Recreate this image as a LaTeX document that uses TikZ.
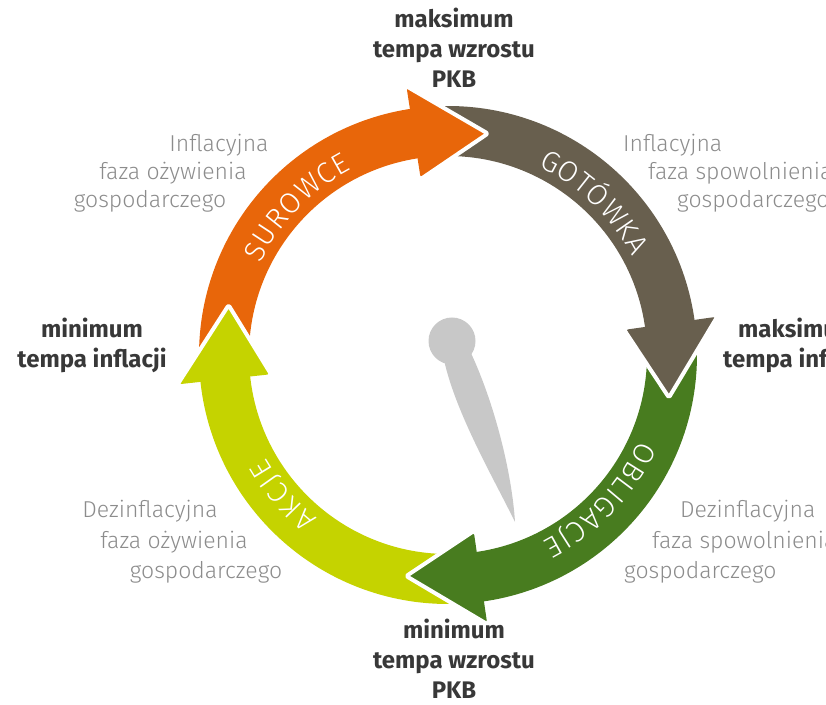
\documentclass[tikz,border=0pt]{standalone}
\usepackage{fontspec}
\setmainfont{Fira Sans}
\newfontfamily\lightfont{Fira Sans Light}
\usetikzlibrary{decorations.text}
\definecolor{corange}{HTML}{E8660A}
\definecolor{cbrown}{HTML}{685F4E}
\definecolor{cgreen}{HTML}{487C1F}
\definecolor{clime}{HTML}{C5D300}
\definecolor{cneedle}{HTML}{C8C8C8}
\definecolor{ctext}{HTML}{8C8C8C}
\definecolor{chead}{HTML}{383838}
\newcommand{\arcfont}{\lightfont\fontsize{29}{29}\selectfont}
\tikzset{
  head/.style={font=\bfseries\fontsize{24}{28}\selectfont, text=chead, inner sep=0pt},
  lbl/.style={font=\lightfont\fontsize{23}{28}\selectfont, text=ctext, inner sep=0pt},
  gapline/.style={draw=white, line width=4pt, line join=round, rounded corners=2pt},
  arclabel/.style={decorate, decoration={text along path, text align={fit to path}, text color=white, text={|\arcfont|#1}}},
}
\begin{document}
\begin{tikzpicture}[x=1pt,y=1pt]
\useasboundingbox (0,0) rectangle (826,704);
\clip (0,0) rectangle (826,704);
\begin{scope}[shift={(448,349)}]
  % shafts
  \fill[corange] (178.7:249) arc[start angle=178.7, end angle=96.8, radius=249] -- (96.8:199) arc[start angle=96.8, end angle=178.7, radius=199] -- cycle;
  \fill[cbrown] (91.3:249) arc[start angle=91.3, end angle=6.1, radius=249] -- (6.1:199) arc[start angle=6.1, end angle=91.3, radius=199] -- cycle;
  \fill[cgreen] (0.6:249) arc[start angle=0.6, end angle=-83.7, radius=249] -- (-83.7:199) arc[start angle=-83.7, end angle=0.6, radius=199] -- cycle;
  \fill[clime] (270.8:249) arc[start angle=270.8, end angle=184.2, radius=249] -- (184.2:199) arc[start angle=184.2, end angle=270.8, radius=199] -- cycle;
  % heads
  \fill[corange, rounded corners=2pt] (98.8:270) -- (79.8:225) -- (98.8:180) -- cycle;
  \draw[gapline] (98.8:272) -- (79.8:225) -- (98.8:178);
  \fill[cbrown, rounded corners=2pt] (8.1:270) -- (-10.9:225) -- (8.1:180) -- cycle;
  \draw[gapline] (8.1:272) -- (-10.9:225) -- (8.1:178);
  \fill[cgreen, rounded corners=2pt] (-81.7:270) -- (-100.7:225) -- (-81.7:180) -- cycle;
  \draw[gapline] (-81.7:272) -- (-100.7:225) -- (-81.7:178);
  \fill[clime, rounded corners=2pt] (186.2:270) -- (167.2:225) -- (186.2:180) -- cycle;
  \draw[gapline] (186.2:272) -- (167.2:225) -- (186.2:178);
  % arc labels
  \path[arclabel=SUROWCE] (154:209) arc[start angle=154, end angle=117.5, radius=209];
  \path[arclabel=GOTÓWKA] (64.5:209) arc[start angle=64.5, end angle=28, radius=209];
  \path[arclabel=OBLIGACJE] (-24:209) arc[start angle=-24, end angle=-63, radius=209];
  \path[arclabel=AKCJE] (231.5:209) arc[start angle=231.5, end angle=209.5, radius=209];
\end{scope}
% needle
\fill[cneedle] (452,363) circle[radius=23.5];
\fill[cneedle] (444,344) .. controls (456,290) and (494,225) .. (515,182) .. controls (512,230) and (495,300) .. (470,353) -- cycle;
% headings
\node[head, anchor=base] (tA) at (454,676) {maksimum};
\node[head, anchor=base] (tB) at (454,646) {tempa wzrostu};
\node[head, anchor=base] (tC) at (454,616) {PKB};
\node[head, anchor=base] (lA) at (92,366) {minimum};
\node[head, anchor=base] (lB) at (92,336) {tempa inflacji};
\node[head, anchor=base west] (rA) at (738,366) {maksimum};
\node[head, anchor=base west] (rB) at (723,336) {tempa inflacji};
\node[head, anchor=base] (bA) at (454,66) {minimum};
\node[head, anchor=base] (bB) at (454,36) {tempa wzrostu};
\node[head, anchor=base] (bC) at (454,6) {PKB};
% phase labels
\node[lbl, anchor=base] (tl1) at (219,552) {Inflacyjna};
\node[lbl, anchor=base] (tl2) at (173,524) {faza ożywienia};
\node[lbl, anchor=base] (tl3) at (150,496) {gospodarczego};
\node[lbl, anchor=base west] (tr1) at (623,552) {Inflacyjna};
\node[lbl, anchor=base west] (tr2) at (648,524) {faza spowolnienia};
\node[lbl, anchor=base west] (tr3) at (677,496) {gospodarczego};
\node[lbl, anchor=base] (bl1) at (150,186) {Dezinflacyjna};
\node[lbl, anchor=base] (bl2) at (174,156) {faza ożywienia};
\node[lbl, anchor=base] (bl3) at (206,126) {gospodarczego};
\node[lbl, anchor=base west] (br1) at (680,186) {Dezinflacyjna};
\node[lbl, anchor=base west] (br2) at (652,156) {faza spowolnienia};
\node[lbl, anchor=base west] (br3) at (624,126) {gospodarczego};
\end{tikzpicture}
\end{document}
